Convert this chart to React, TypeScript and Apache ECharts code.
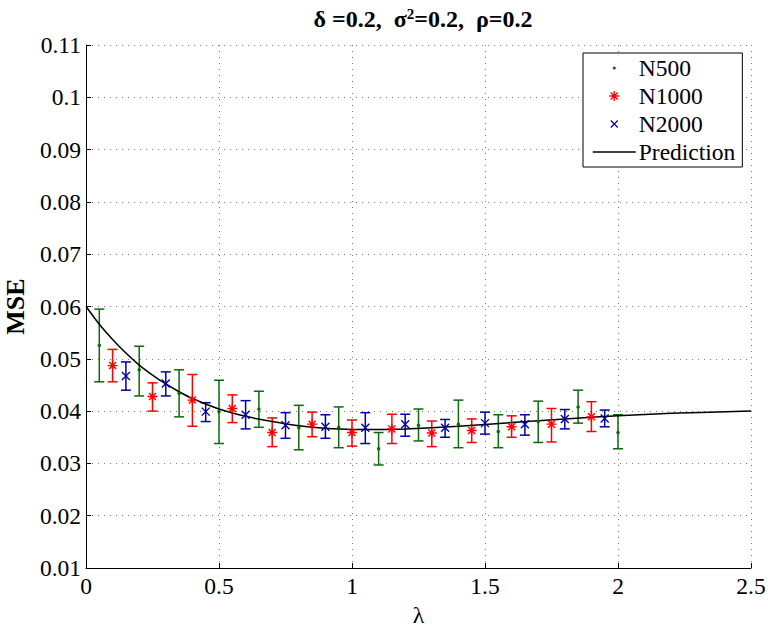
import React, { useEffect, useRef } from "react";
import * as echarts from "echarts";

const lambda500 = [0.05, 0.2, 0.35, 0.5, 0.65, 0.8, 0.95, 1.1, 1.25, 1.4, 1.55, 1.7, 1.85, 2.0];
const mse500 = [0.0526, 0.0479, 0.0434, 0.0399, 0.0404, 0.0368, 0.0369, 0.0328, 0.0373, 0.0375, 0.0361, 0.038, 0.0408, 0.0359];
const lo500 = [0.0456, 0.0429, 0.0389, 0.0338, 0.0369, 0.0326, 0.033, 0.0297, 0.0343, 0.033, 0.033, 0.034, 0.0377, 0.0328];
const hi500 = [0.0595, 0.0524, 0.0479, 0.0459, 0.0438, 0.0411, 0.0408, 0.0359, 0.0404, 0.0421, 0.0393, 0.0419, 0.044, 0.0393];

const lambda1000 = [0.1, 0.25, 0.4, 0.55, 0.7, 0.85, 1.0, 1.15, 1.3, 1.45, 1.6, 1.75, 1.9];
const mse1000 = [0.0487, 0.0428, 0.0421, 0.0405, 0.0359, 0.0375, 0.0359, 0.0366, 0.0358, 0.0363, 0.037, 0.0375, 0.0389];
const lo1000 = [0.0456, 0.04, 0.0371, 0.0378, 0.0332, 0.0351, 0.0333, 0.0338, 0.0332, 0.034, 0.035, 0.0341, 0.0361];
const hi1000 = [0.0518, 0.0454, 0.047, 0.0431, 0.0387, 0.0398, 0.0383, 0.0394, 0.0381, 0.0385, 0.0391, 0.0405, 0.0418];

const lambda2000 = [0.15, 0.3, 0.45, 0.6, 0.75, 0.9, 1.05, 1.2, 1.35, 1.5, 1.65, 1.8, 1.95];
const mse2000 = [0.0467, 0.0453, 0.0399, 0.0393, 0.0373, 0.037, 0.0368, 0.0375, 0.0368, 0.0377, 0.0375, 0.0385, 0.0386];
const lo2000 = [0.044, 0.0429, 0.038, 0.0366, 0.0348, 0.0348, 0.0338, 0.0352, 0.035, 0.0356, 0.0354, 0.0366, 0.037];
const hi2000 = [0.0494, 0.0475, 0.0416, 0.042, 0.0397, 0.0393, 0.0397, 0.0394, 0.0384, 0.0398, 0.0393, 0.0403, 0.0402];

const predLambda = [0, 0.05, 0.1, 0.15, 0.2, 0.25, 0.3, 0.35, 0.4, 0.5, 0.6, 0.7, 0.8, 0.9, 1.0, 1.1, 1.2, 1.4, 1.6, 1.8, 2.0, 2.2, 2.5];
const predMse = [0.06, 0.0566, 0.0537, 0.0511, 0.0488, 0.0469, 0.0452, 0.0437, 0.0424, 0.0404, 0.039, 0.038, 0.0372, 0.0367, 0.0365, 0.0365, 0.0366, 0.0371, 0.0378, 0.0385, 0.0391, 0.0396, 0.04];

const seriesNames = ["N500", "N1000", "N2000", "Prediction"];
const xTicks = [0, 0.5, 1, 1.5, 2, 2.5];

const GREEN = "#0b6a0b";
const RED = "#ff0000";
const BLUE = "#0000a8";
const FONT = "Liberation Serif";

const STAR = "M5 0L5 10M0 5L10 5M1.5 1.5L8.5 8.5M8.5 1.5L1.5 8.5";
const CROSS = "M0 0L10 10M10 0L0 10";
const starLegend = "path://M-2 -2M12 12" + STAR;
const crossLegend = "path://M-5 -5M15 15" + CROSS;
const dotLegend = "path://M-7 -7M11 11M0 2A2 2 0 1 1 4 2A2 2 0 1 1 0 2Z";
const lineLegend = "path://M0 0M0 14M0 7L43 7";

function errorSeries(name: string, xs: number[], lo: number[], hi: number[], color: string) {
  return {
    name,
    type: "custom",
    data: xs.map((x, i) => [x, lo[i], hi[i]]),
    encode: { x: 0, y: [1, 2] },
    z: 2,
    renderItem: (params: any, api: any) => {
      const x = api.value(0);
      const pLo = api.coord([x, api.value(1)]);
      const pHi = api.coord([x, api.value(2)]);
      const hw = 5;
      const style = { stroke: color, lineWidth: 1.5, fill: "none" };
      return {
        type: "group",
        children: [
          { type: "line", shape: { x1: pLo[0], y1: pLo[1], x2: pHi[0], y2: pHi[1] }, style },
          { type: "line", shape: { x1: pLo[0] - hw, y1: pLo[1], x2: pLo[0] + hw, y2: pLo[1] }, style },
          { type: "line", shape: { x1: pHi[0] - hw, y1: pHi[1], x2: pHi[0] + hw, y2: pHi[1] }, style },
        ],
      };
    },
  };
}

export default function App() {
  const ref = useRef<HTMLDivElement>(null);
  useEffect(() => {
    if (!ref.current) return;
    const chart = echarts.init(ref.current, null, { renderer: "svg" });
    const labelText = { color: "#000", fontFamily: FONT, fontSize: 23.5, fontWeight: "normal" };
    chart.setOption({
      animation: false,
      backgroundColor: "#fff",
      textStyle: { fontFamily: FONT, fontWeight: "normal" },
      title: {
        text: "δ =0.2,  σ{sup|2}=0.2,  ρ=0.2",
        left: 418,
        textAlign: "center",
        top: 1,
        textStyle: {
          fontFamily: FONT,
          fontSize: 24,
          fontWeight: "bold",
          color: "#000",
          rich: {
            sup: { fontFamily: FONT, fontSize: 15, fontWeight: "bold", color: "#000", padding: [0, 0, 10, 0] },
          },
        },
      },
      grid: { left: 86, right: 17, top: 45, bottom: 59, containLabel: false, outerBoundsMode: "none" },
      legend: {
        orient: "vertical",
        left: 583,
        top: 53,
        padding: [3, 7, 3, 9],
        itemGap: 4,
        itemWidth: 43,
        itemHeight: 14,
        borderColor: "#000",
        borderWidth: 1,
        backgroundColor: "#fff",
        selectedMode: false,
        textStyle: { ...labelText, padding: [0, 0, 0, -2] },
        data: [
          { name: seriesNames[0], icon: dotLegend },
          { name: seriesNames[1], icon: starLegend, itemStyle: { borderWidth: 1.3 } },
          { name: seriesNames[2], icon: crossLegend, itemStyle: { borderWidth: 1.2 } },
          { name: seriesNames[3], icon: lineLegend, itemStyle: { color: "transparent", borderColor: "#000", borderWidth: 1.5 } },
        ],
      },
      xAxis: {
        type: "value",
        min: 0,
        max: 2.5,
        interval: 0.5,
        name: "λ",
        nameLocation: "middle",
        nameGap: 29,
        nameTextStyle: { ...labelText, fontSize: 24 },
        axisLine: { onZero: false, lineStyle: { color: "#000", width: 1 } },
        axisTick: { inside: true, length: 5, lineStyle: { color: "#000" } },
        axisLabel: { ...labelText, margin: 6, formatter: (v: number) => (xTicks.includes(v) ? String(v) : "") },
        splitLine: { show: true, lineStyle: { color: "#777", type: [1, 5], width: 1 } },
      },
      yAxis: {
        type: "value",
        min: 0.01,
        max: 0.11,
        interval: 0.01,
        name: "MSE",
        nameLocation: "middle",
        nameGap: 55,
        nameTextStyle: { fontFamily: FONT, fontSize: 26, fontWeight: "bold", color: "#000" },
        axisLine: { onZero: false, lineStyle: { color: "#000", width: 1 } },
        axisTick: { inside: true, length: 5, lineStyle: { color: "#000" } },
        axisLabel: { ...labelText, margin: 5, formatter: (v: number) => String(parseFloat(v.toFixed(2))) },
        splitLine: { show: true, lineStyle: { color: "#777", type: [1, 5], width: 1 } },
      },
      series: [
        errorSeries("N500 err", lambda500, lo500, hi500, GREEN),
        errorSeries("N1000 err", lambda1000, lo1000, hi1000, RED),
        errorSeries("N2000 err", lambda2000, lo2000, hi2000, BLUE),
        {
          name: seriesNames[3],
          type: "line",
          data: predLambda.map((x, i) => [x, predMse[i]]),
          smooth: 0.2,
          symbol: "none",
          z: 3,
          lineStyle: { color: "#000", width: 1.5 },
          itemStyle: { color: "#000" },
        },
        {
          name: seriesNames[0],
          type: "scatter",
          data: lambda500.map((x, i) => [x, mse500[i]]),
          symbol: "circle",
          symbolSize: 3.5,
          z: 4,
          itemStyle: { color: GREEN, opacity: 1 },
        },
        {
          name: seriesNames[1],
          type: "scatter",
          data: lambda1000.map((x, i) => [x, mse1000[i]]),
          symbol: "path://" + STAR,
          symbolSize: 10,
          z: 4,
          itemStyle: { color: "transparent", borderColor: RED, borderWidth: 1.4, opacity: 1 },
        },
        {
          name: seriesNames[2],
          type: "scatter",
          data: lambda2000.map((x, i) => [x, mse2000[i]]),
          symbol: "path://" + CROSS,
          symbolSize: 8,
          z: 4,
          itemStyle: { color: "transparent", borderColor: BLUE, borderWidth: 1.4, opacity: 1 },
        },
      ],
    });
    return () => chart.dispose();
  }, []);
  return <div ref={ref} style={{ width: 768, height: 627, position: "absolute", left: 0, top: 0 }} />;
}
